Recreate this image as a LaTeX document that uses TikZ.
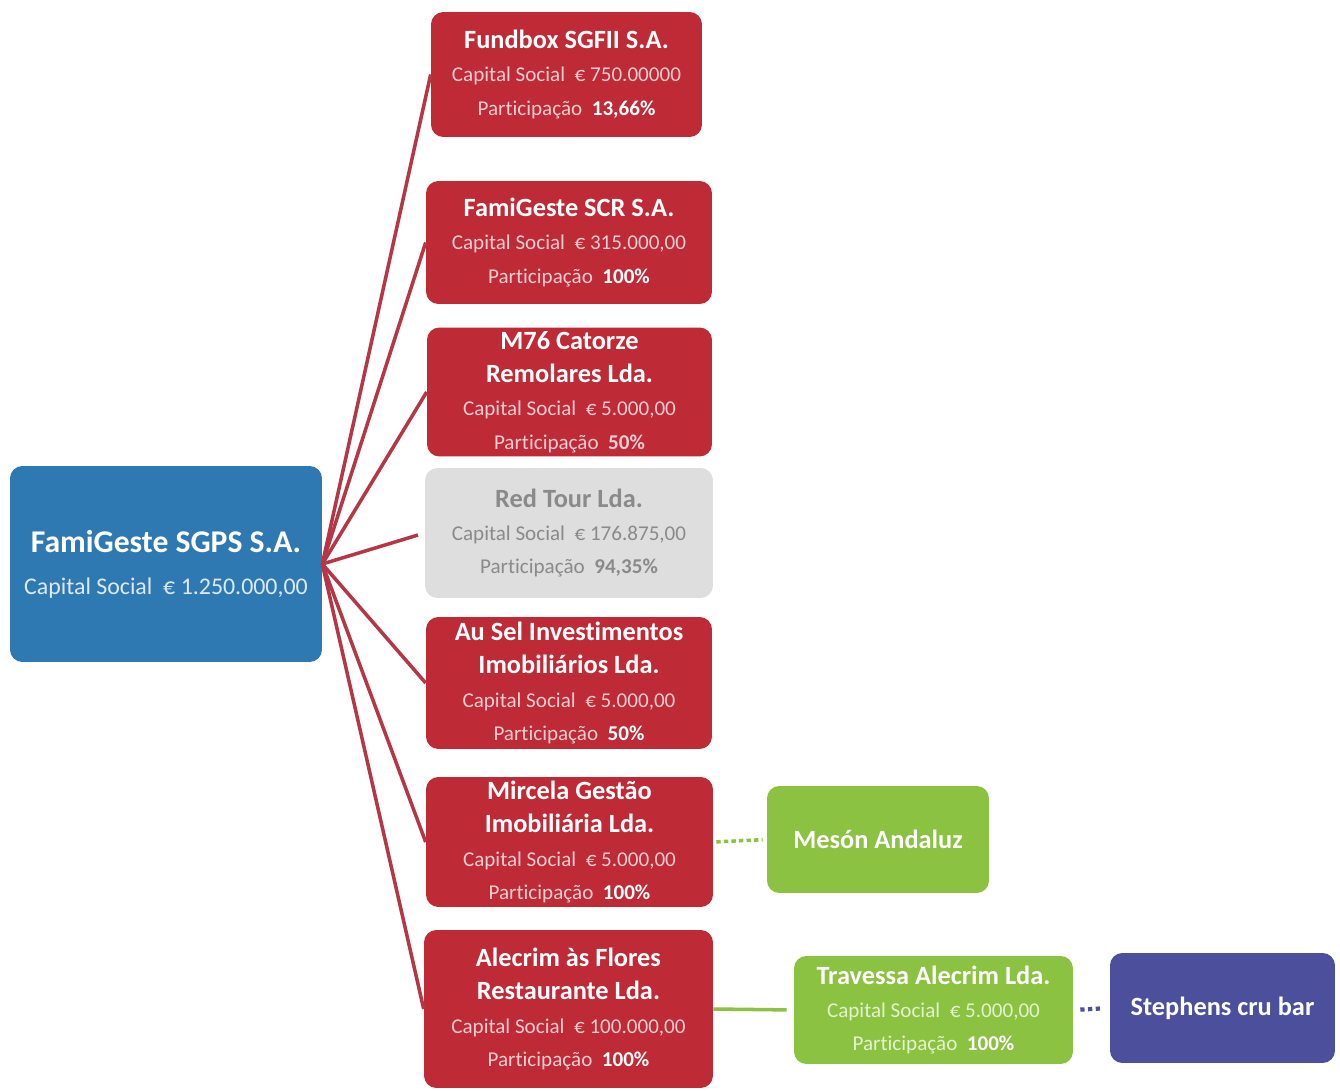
\documentclass[tikz,border=0pt]{standalone}
\usepackage{fontspec}
\setmainfont{Carlito}[Ligatures=NoCommon]
\usepackage{xcolor}
\definecolor{boxred}{HTML}{BE2A36}
\definecolor{linered}{HTML}{B53746}
\definecolor{rootblue}{HTML}{2F79B3}
\definecolor{boxgreen}{HTML}{8BC241}
\definecolor{boxpurple}{HTML}{4C4F9C}
\definecolor{boxgray}{HTML}{DEDEDE}
\definecolor{txtpink}{HTML}{F4CDD0}
\definecolor{txtgreen}{HTML}{E4F2CF}
\definecolor{txtgray}{HTML}{8A8A8A}
\definecolor{txtblue}{HTML}{DCE9F5}
\tikzset{company/.style={rounded corners=7pt, inner sep=0pt, align=center,
   font=\fontsize{12}{19}\selectfont},
 redbox/.style={company, fill=boxred, text=white},
 graybox/.style={company, fill=boxgray, text=txtgray},
 greenbox/.style={company, fill=boxgreen, text=white},
 purplebox/.style={company, fill=boxpurple, text=white},
 rootbox/.style={company, fill=rootblue, text=white,
   font=\fontsize{13.6}{24}\selectfont},
 link/.style={draw=linered, line width=2pt},
 greenlink/.style={draw=boxgreen, line width=2pt},
 }
\newcommand{\ttl}[1]{{\fontsize{15}{19}\selectfont\bfseries #1}}

\begin{document}
\begin{tikzpicture}[x=0.02cm, y=-0.02cm]
    \useasboundingbox (0,0) rectangle (1340,1091);
    \fill[white] (0,0) rectangle (1340,1091);

    % holding
    \node[rootbox, minimum width=6.24cm, minimum height=3.92cm] (sgps) at (166,564)
        {{\fontsize{18}{24}\selectfont\bfseries FamiGeste SGPS S.A.}\\
         {\color{txtblue}Capital Social \ € 1.250.000,00}};

    % participadas
    \node[redbox, minimum width=5.42cm, minimum height=2.5cm] (fundbox) at (566.5,74.5)
        {\ttl{Fundbox SGFII S.A.}\\
         {\color{txtpink}Capital Social \ € 750.00000}\\
         {\color{txtpink}Participação} \ \textbf{13,66\%}};
    \node[redbox, minimum width=5.72cm, minimum height=2.46cm] (scr) at (569,242.5)
        {\ttl{FamiGeste SCR S.A.}\\
         {\color{txtpink}Capital Social \ € 315.000,00}\\
         {\color{txtpink}Participação} \ \textbf{100\%}};
    \node[redbox, minimum width=5.7cm, minimum height=2.58cm] (m76) at (569.5,392)
        {\ttl{M76 Catorze}\\ \ttl{Remolares Lda.}\\
         {\color{txtpink}Capital Social \ € 5.000,00}\\
         {\color{txtpink}Participação \ \textbf{50\%}}};
    \node[graybox, minimum width=5.76cm, minimum height=2.6cm] (redtour) at (569,533)
        {\ttl{Red Tour Lda.}\\
         Capital Social \ € 176.875,00\\
         Participação \ \textbf{94,35\%}};
    \node[redbox, minimum width=5.72cm, minimum height=2.64cm] (ausel) at (569,683)
        {\ttl{Au Sel Investimentos}\\ \ttl{Imobiliários Lda.}\\
         {\color{txtpink}Capital Social \ € 5.000,00}\\
         {\color{txtpink}Participação} \ \textbf{50\%}};
    \node[redbox, minimum width=5.74cm, minimum height=2.6cm] (mircela) at (569.5,842)
        {\ttl{Mircela Gestão}\\ \ttl{Imobiliária Lda.}\\
         {\color{txtpink}Capital Social \ € 5.000,00}\\
         {\color{txtpink}Participação} \ \textbf{100\%}};
    \node[redbox, minimum width=5.78cm, minimum height=3.16cm] (alecrim) at (568.5,1009)
        {\ttl{Alecrim às Flores}\\ \ttl{Restaurante Lda.}\\
         {\color{txtpink}Capital Social \ € 100.000,00}\\
         {\color{txtpink}Participação} \ \textbf{100\%}};

    % segundo nivel
    \node[greenbox, minimum width=4.44cm, minimum height=2.14cm] (meson) at (878,839.5)
        {\ttl{Mesón Andaluz}};
    \node[greenbox, minimum width=5.58cm, minimum height=2.16cm] (travessa) at (933.5,1010)
        {\ttl{Travessa Alecrim Lda.}\\
         {\color{txtgreen}Capital Social \ € 5.000,00}\\
         {\color{txtgreen}Participação} \ \textbf{100\%}};
    \node[purplebox, minimum width=4.5cm, minimum height=2.2cm] (stephens) at (1222.5,1008)
        {\ttl{Stephens cru bar}};

    % ligacoes
    \foreach \n in {fundbox, scr, m76, ausel, mircela, alecrim}
        \draw[link] (sgps.east) -- (\n.west);
    \draw[link, shorten >=0.14cm] (sgps.east) -- (redtour.west);
    \draw[greenlink, shorten >=0.14cm] (alecrim.east) -- (travessa.west);
    \draw[greenlink, dash pattern=on 2.5pt off 1.8pt, shorten <=0.06cm, shorten >=0.08cm]
        (mircela.east) -- (meson.west);
    \draw[draw=boxpurple, line width=2.4pt, dash pattern=on 2.4pt off 2pt,
        shorten <=0.14cm, shorten >=0.18cm] (travessa.east) -- (stephens.west);
\end{tikzpicture}
\end{document}
